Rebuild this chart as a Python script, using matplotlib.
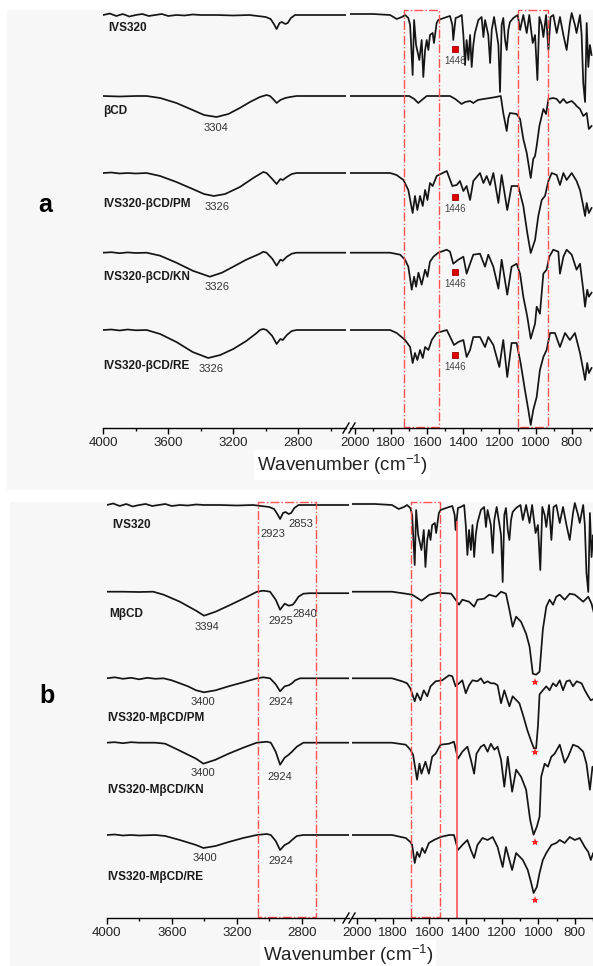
import numpy as np
import matplotlib
matplotlib.use("Agg")
import matplotlib.pyplot as plt
from matplotlib.patches import Rectangle

plt.rcParams['font.family'] = ['Liberation Sans', 'DejaVu Sans']
plt.rcParams['mathtext.default'] = 'regular'

# spectra as (wavenumber, band depth below the trace baseline)
ivs320 = [(4000,0),(3960,-1.5),(3920,1),(3880,-1),(3840,1.5),(3800,0),(3760,-1),(3720,1),(3680,0),(3640,-1),(3600,1),(3550,0),
          (3500,0.5),(3450,-0.5),(3400,0),(3300,0),(3200,0.5),(3100,0),(3050,1),(3000,2),(2970,4),(2950,9),(2933,14),(2915,8),
          (2900,7),(2880,9),(2865,8),(2845,3),(2820,0),(2700,0),(2500,0),
          (2030,-1),(1900,-1),(1806,0),(1769,4),(1740,2),(1723,0),(1705,3),(1695,10),(1681,60),(1673,5),(1662,30),(1644,45),
          (1631,25),(1622,62),(1612,35),(1603,25),(1594,35),(1585,20),(1570,18),(1563,28),(1548,8),(1539,5),(1492,2),(1474,1),
          (1461,10),(1456,25),(1443,3),(1428,2),(1409,0),(1400,20),(1391,50),(1382,25),(1372,45),(1363,20),(1354,52),(1345,30),
          (1336,18),(1317,5),(1299,2),(1289,22),(1280,5),(1262,20),(1252,48),(1243,15),(1230,2),(1216,18),(1206,30),(1197,77),
          (1188,10),(1179,3),(1169,25),(1160,35),(1151,15),(1142,7),(1123,3),(1099,0),(1086,15),(1068,0),(1049,18),(1035,0),
          (1016,28),(1003,20),(990,65),(979,2),(966,10),(957,22),(942,0),(929,35),(917,2),(902,0),(883,18),(865,2),(846,20),
          (828,35),(810,8),(800,-2),(782,10),(773,18),(754,0),(745,20),(736,68),(726,87),(717,8),(708,52),(699,30),(690,40)]

beta_cd = [(4000,0),(3900,0.5),(3800,0),(3733,0),(3650,2),(3550,7),(3450,14),(3380,19),(3303,21),(3230,18),(3160,12),(3097,6),
           (3036,1),(2995,-1),(2974,0),(2955,3),(2933,7),(2910,4),(2880,2),(2850,1),(2810,0),(2500,0),
           (2030,0),(1806,0),(1700,0),(1672,3),(1650,7),(1630,4),(1603,0),(1474,0),(1445,3),(1410,8),(1390,6),(1363,5),(1345,7),
           (1320,4),(1289,3),(1252,2),(1220,1),(1193,0),(1179,17),(1160,35),(1151,22),(1142,17),(1105,18),(1086,23),(1068,43),
           (1049,57),(1027,82),(1013,63),(1003,60),(994,50),(979,30),(957,13),(942,18),(929,3),(902,2),(883,3),(865,7),(846,3),
           (828,7),(800,5),(782,8),(773,10),(754,13),(736,20),(717,17),(705,33),(690,30)]

pm_a = [(4000,0),(3950,-0.5),(3900,0.5),(3850,0),(3800,0.5),(3733,0),(3650,3),(3550,9),(3450,16),(3380,21),(3320,23),(3250,21),
        (3159,14),(3077,5),(3036,1),(3015,-1),(2995,0),(2960,6),(2933,11),(2910,6),(2895,7),(2870,4),(2840,1),(2810,0),(2500,0),
        (2030,0),(1806,0),(1770,2),(1732,7),(1705,17),(1681,40),(1668,23),(1655,37),(1640,23),(1625,33),(1612,17),(1599,27),
        (1585,10),(1570,13),(1548,3),(1492,-2),(1461,13),(1437,12),(1419,8),(1400,18),(1382,13),(1363,27),(1345,8),(1308,0),
        (1289,10),(1271,3),(1252,12),(1234,0),(1206,30),(1188,2),(1157,37),(1133,13),(1096,13),(1068,33),(1046,60),(1027,80),
        (1003,67),(985,43),(966,27),(948,23),(929,8),(911,0),(883,2),(865,12),(846,0),(828,7),(800,0),(773,8),(754,17),
        (736,33),(726,43),(717,30),(705,40),(690,35)]

kn_a = [(4000,0),(3950,-0.5),(3900,0.5),(3850,-0.3),(3800,0.3),(3733,0),(3650,3),(3550,10),(3450,18),(3344,24),(3270,20),
        (3200,14),(3120,7),(3036,1),(3015,-1),(2995,0),(2960,6),(2933,13),(2910,7),(2895,8),(2870,4),(2840,1),(2810,0),(2500,0),
        (2030,0),(1806,0),(1750,2),(1723,7),(1705,14),(1686,37),(1673,24),(1662,34),(1649,20),(1631,32),(1612,17),(1599,24),
        (1585,9),(1566,4),(1539,0),(1492,-3),(1474,-1),(1456,11),(1428,7),(1400,4),(1382,21),(1363,11),(1345,2),(1308,1),
        (1280,14),(1262,2),(1234,14),(1206,36),(1188,7),(1157,42),(1133,14),(1105,11),(1086,21),(1068,44),(1046,64),(1027,86),
        (1003,71),(994,54),(976,61),(957,21),(939,17),(924,4),(902,-3),(874,-1),(865,21),(846,4),(828,-3),(800,2),(773,17),
        (754,11),(736,37),(726,54),(714,37),(705,44),(690,40)]

re_a = [(4000,0),(3950,-0.5),(3900,0.5),(3850,-0.5),(3800,0.3),(3733,0),(3650,4),(3550,12),(3450,22),(3354,28),(3280,25),
        (3200,19),(3120,11),(3056,3),(3036,0),(3015,-1),(2995,0),(2960,6),(2933,14),(2910,9),(2895,10),(2870,5),(2840,1),
        (2810,0),(2500,0),
        (2030,0),(1806,0),(1769,3),(1723,10),(1695,17),(1681,33),(1668,23),(1655,30),(1640,20),(1625,28),(1612,17),(1594,20),
        (1575,10),(1548,3),(1492,0),(1465,10),(1452,15),(1428,12),(1400,10),(1382,27),(1363,20),(1345,7),(1308,7),(1280,17),
        (1262,7),(1234,15),(1201,37),(1179,10),(1157,47),(1133,13),(1105,13),(1083,33),(1059,60),(1040,80),(1027,95),
        (1013,80),(994,67),(976,40),(957,27),(939,20),(920,3),(893,3),(865,17),(837,3),(810,10),(782,3),(754,23),(736,40),
        (726,50),(714,33),(705,43),(690,38)]

mbcd = [(4000,0),(3900,0),(3800,0.3),(3713,0),(3650,3),(3550,10),(3450,19),(3401,24),(3330,20),(3250,14),(3160,7),(3075,0),
        (3036,-1),(2995,0),(2960,8),(2933,18),(2905,12),(2880,14),(2855,13),(2840,10),(2820,5),(2790,2),(2750,1.5),(2500,1.5),
        (2030,0),(1806,0),(1730,2),(1695,3),(1643,9),(1600,3),(1550,1),(1480,2),(1456,8),(1437,13),(1419,8),(1382,10),
        (1354,15),(1336,8),(1299,7),(1271,3),(1234,5),(1206,0),(1179,2),(1160,18),(1142,35),(1123,25),(1096,30),(1068,42),
        (1049,55),(1031,82),(1013,83),(994,80),(976,38),(957,15),(939,8),(920,13),(902,5),(883,3),(856,8),(828,2),(800,3),
        (773,7),(754,10),(726,5),(708,12),(690,25)]

pm_b = [(4000,0),(3950,-1),(3900,0.5),(3850,-0.5),(3800,1),(3750,-0.5),(3700,0.5),(3651,0),(3600,2),(3500,8),(3450,12),
        (3401,14),(3330,12),(3250,8),(3160,4),(3075,0),(3036,-1),(2995,0),(2960,6),(2933,13),(2905,8),(2880,7),(2860,5),
        (2840,2),(2810,0),(2500,0),
        (2030,0),(1806,0),(1750,3),(1723,5),(1705,10),(1690,18),(1681,23),(1668,15),(1649,22),(1631,12),(1612,18),(1594,8),
        (1566,3),(1530,2),(1492,-3),(1474,-2),(1456,8),(1437,5),(1419,2),(1400,15),(1382,7),(1363,2),(1336,3),(1317,0),
        (1299,5),(1280,3),(1262,5),(1243,5),(1225,7),(1206,25),(1188,12),(1160,28),(1142,18),(1105,25),(1083,38),(1061,52),
        (1040,63),(1025,70),(1013,70),(1003,48),(994,16),(976,12),(957,8),(939,12),(920,5),(902,8),(883,2),(865,12),(846,3),
        (828,2),(810,8),(790,3),(763,5),(745,12),(726,18),(712,22),(690,20)]

kn_b = [(4000,0),(3950,-0.5),(3900,0.5),(3850,-0.5),(3800,0),(3700,0),(3640,1),(3550,8),(3450,16),(3405,21),(3330,17),
        (3250,11),(3160,5),(3077,0),(3015,-1),(2990,0),(2960,9),(2933,22),(2905,15),(2880,12),(2860,9),(2830,4),(2790,0),
        (2500,0),
        (2030,0),(1806,0),(1730,2),(1705,7),(1690,12),(1668,37),(1655,21),(1644,31),(1622,19),(1603,31),(1585,14),(1566,11),
        (1539,2),(1492,1),(1465,-1),(1443,16),(1419,9),(1391,4),(1372,17),(1354,31),(1341,11),(1317,4),(1299,2),(1280,9),
        (1262,1),(1243,7),(1225,4),(1206,17),(1188,44),(1169,14),(1145,49),(1123,27),(1096,34),(1068,47),(1046,77),(1027,92),
        (1009,84),(994,74),(985,34),(966,21),(948,24),(929,14),(911,11),(883,2),(856,20),(837,14),(810,2),(782,4),(754,9),
        (736,21),(717,47),(703,24),(690,31)]

re_b = [(4000,0),(3950,-0.5),(3900,0.5),(3850,0),(3800,0.5),(3700,0),(3640,1),(3550,5),(3450,10),(3405,13),(3330,11),
        (3250,7),(3160,3),(3077,0),(3015,-1),(2990,0),(2960,6),(2933,15),(2905,10),(2880,8),(2860,5),(2830,1),(2790,0),
        (2500,0),
        (2030,0),(1806,0),(1730,3),(1705,7),(1695,10),(1681,28),(1668,17),(1655,22),(1640,13),(1625,18),(1603,8),(1575,5),
        (1539,2),(1492,0),(1465,0),(1443,15),(1419,10),(1391,5),(1372,15),(1354,23),(1336,10),(1308,3),(1280,5),(1252,2),
        (1225,12),(1197,32),(1179,12),(1145,35),(1123,18),(1086,25),(1059,35),(1040,48),(1027,58),(1009,52),(994,38),
        (976,25),(957,18),(929,10),(902,8),(883,5),(856,8),(828,2),(800,5),(773,3),(745,12),(726,17),(712,25),(699,18),
        (690,22)]

names_a = ['IVS320', 'βCD', 'IVS320-βCD/PM', 'IVS320-βCD/KN', 'IVS320-βCD/RE']
names_b = ['IVS320', 'MβCD', 'IVS320-MβCD/PM', 'IVS320-MβCD/KN', 'IVS320-MβCD/RE']
spectra_a = [ivs320, beta_cd, pm_a, kn_a, re_a]
spectra_b = [ivs320, mbcd, pm_b, kn_b, re_b]

# peak labels: (trace index, text, wavenumber)
peaks_a = [(1, '3304', 3306), (2, '3326', 3300), (3, '3326', 3300), (4, '3326', 3337)]
peaks_b = [(0, '2923', 2977), (0, '2853', 2804), (1, '3394', 3383), (1, '2925', 2927), (1, '2840', 2779),
           (2, '3400', 3406), (2, '2924', 2927), (3, '3400', 3406), (3, '2924', 2933), (4, '3400', 3394), (4, '2924', 2927)]
band_1446 = 1446
traces_1446 = [0, 2, 3, 4]
band_star = 1020
traces_star = [1, 2, 3, 4]

W, H = 593, 966
fig = plt.figure(figsize=(W / 100, H / 100), dpi=100)
fig.patch.set_facecolor('white')

bg = fig.add_axes([0, 0, 1, 1], zorder=-5)
bg.set_xlim(0, W); bg.set_ylim(H, 0); bg.axis('off')
bg.add_patch(Rectangle((7, 10), W - 7, 480, color='#f7f7f7', lw=0))
bg.add_patch(Rectangle((10, 502), W - 10, H - 502, color='#f7f7f7', lw=0))

ov = fig.add_axes([0, 0, 1, 1], zorder=10)
ov.set_xlim(0, W); ov.set_ylim(H, 0); ov.axis('off')
ov.patch.set_alpha(0)


def make_axes(x0, x1, ytop, yax, xlim, major, minor):
    ax = fig.add_axes([x0 / W, 1 - yax / H, (x1 - x0) / W, (yax - ytop) / H])
    ax.set_xlim(*xlim)
    ax.set_ylim(yax, ytop)
    ax.patch.set_alpha(0)
    for s in ['top', 'left', 'right']:
        ax.spines[s].set_visible(False)
    ax.spines['bottom'].set_linewidth(1.0)
    ax.set_yticks([])
    ax.set_xticks(major)
    ax.set_xticks(minor, minor=True)
    ax.tick_params(axis='x', which='major', length=4.5, width=1, labelsize=9.5, pad=2, labelcolor='#222222')
    ax.tick_params(axis='x', which='minor', length=2.5, width=1)
    return ax


def panel(offsets, spectra, names, name_pos, geom):
    (lx0, lx1, rx0, rx1, ytop, yax, llim, rlim) = geom
    axL = make_axes(lx0, lx1, ytop, yax, llim, [4000, 3600, 3200, 2800], [3800, 3400, 3000, 2600])
    axR = make_axes(rx0, rx1, ytop, yax, rlim, list(range(2000, 799, -200)), list(range(1900, 650, -200)))
    for off, data in zip(offsets, spectra):
        wn, dep = np.array(data, dtype=float).T
        for ax in (axL, axR):
            ax.plot(wn, off + dep, color='#151515', lw=1.25)
    for off, name, (wn, dy) in zip(offsets, names, name_pos):
        axL.text(wn, off + dy, name, fontsize=8.5, fontweight='bold', ha='left', va='center',
                 color='#1a1a1a', clip_on=False)
    return axL, axR


red = '#ff5252'

# panel a
off_a = [15, 96, 173, 252.7, 330]
name_pos_a = [(3971, 13), (4000, 15), (4000, 31), (4000, 24), (4000, 36)]
aL, aR = panel(off_a, spectra_a, names_a, name_pos_a,
               (103.3, 346, 350, 593, 5, 428, (4000, 2506), (2028, 682)))
peak_dy_a = [32, 34, 34, 39]
for (i, txt, wn), dy in zip(peaks_a, peak_dy_a):
    aL.text(wn, off_a[i] + dy, txt, fontsize=8, ha='center', va='center', color='#333333')
marker_dy = [34, 24, 19, 25]
for i, dy in zip(traces_1446, marker_dy):
    aR.plot(band_1446, off_a[i] + dy, 's', ms=4.5, color='#e00000', mec='#a00000', mew=0.6, clip_on=False)
    aR.text(band_1446, off_a[i] + dy + 12, str(band_1446), fontsize=7, ha='center', va='center', color='#444444')
for lo, hi in [(1729, 1535), (1097, 931)]:
    aR.plot([lo, lo, hi, hi, lo], [427, 10, 10, 427, 427], ls='-.', color=red, lw=1.0, clip_on=False)

# panel b
off_b = [505, 591.7, 678.3, 742.7, 835]
name_pos_b = [(3967, 20), (3985, 22), (3998, 40), (3998, 47), (3998, 42)]
bL, bR = panel(off_b, spectra_b, names_b, name_pos_b,
               (106.7, 349, 352, 593, 497, 918, (4000, 2509), (2026, 701)))
peak_dy_b = [29, 19, 35, 29, 22, 24, 24, 30, 34, 23, 26]
for (i, txt, wn), dy in zip(peaks_b, peak_dy_b):
    bL.text(wn, off_b[i] + dy, txt, fontsize=8, ha='center', va='center', color='#333333')
star_dy = [90, 74, 99, 65]
for i, dy in zip(traces_star, star_dy):
    bR.plot(band_star, off_b[i] + dy, '*', ms=6, color='#ff2020', mew=0, clip_on=False)
bL.plot([3069, 3069, 2712, 2712, 3069], [917, 502, 502, 917, 917], ls='-.', color=red, lw=1.0, clip_on=False)
bR.plot([1703, 1703, 1542, 1542, 1703], [917, 502, 502, 917, 917], ls='-.', color=red, lw=1.0, clip_on=False)
bR.plot([1450, 1450], [522, 918], color='#ff6060', lw=1.3)

# axis breaks, axis titles and panel letters
for yax in (428, 918):
    for x in (343, 349):
        ov.plot([x, x + 6], [yax + 5, yax - 5], color='black', lw=1.0)
ov.text(342, 465, 'Wavenumber (cm$^{-1}$)', fontsize=13.5, ha='center', va='center', color='#222222',
        bbox=dict(facecolor='white', edgecolor='none', pad=2))
ov.text(348, 955, 'Wavenumber (cm$^{-1}$)', fontsize=13.5, ha='center', va='center', color='#222222',
        bbox=dict(facecolor='white', edgecolor='none', pad=2))
ov.text(45, 205, 'a', fontsize=18, fontweight='bold', ha='center', va='center')
ov.text(47, 696, 'b', fontsize=18, fontweight='bold', ha='center', va='center')

fig.savefig('out.png', dpi=100, facecolor=fig.get_facecolor())
